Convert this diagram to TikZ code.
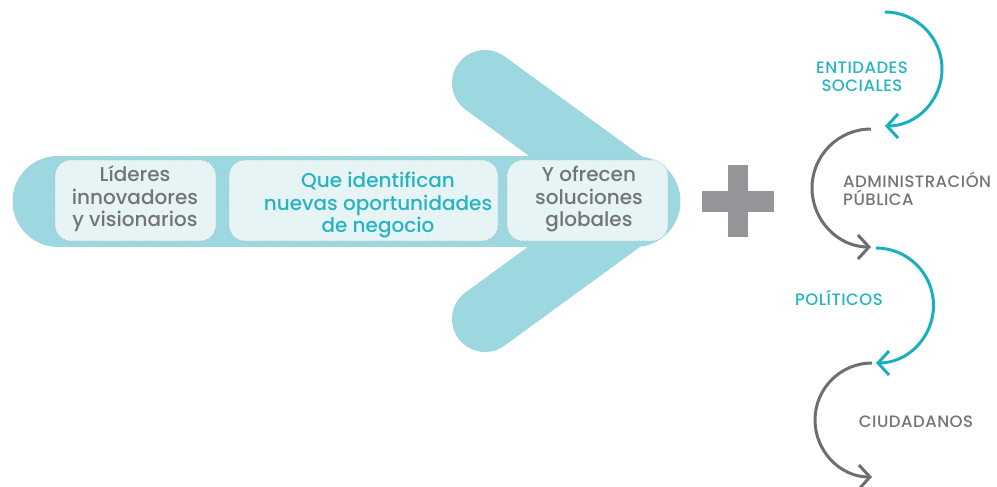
\documentclass[tikz,border=0pt]{standalone}
\usepackage{fontspec}
\setmainfont{Poppins Medium}
\usetikzlibrary{arrows.meta}
\definecolor{arrowfill}{HTML}{9DD7DF}
\definecolor{boxfill}{HTML}{E6F4F6}
\definecolor{boxline}{HTML}{A9B3B5}
\definecolor{graytxt}{HTML}{737477}
\definecolor{tealtxt}{HTML}{27B4C2}
\definecolor{tealarc}{HTML}{1AAFBE}
\definecolor{grayarc}{HTML}{6D6E71}
\definecolor{plusgray}{HTML}{939598}
\begin{document}
\begin{tikzpicture}[x=1pt,y=-1pt,
 box/.style={draw=boxline, dotted, line width=0.8pt, fill=boxfill, rounded corners=16pt, inner sep=0pt},
 boxtext/.style={align=center, font=\fontsize{20}{22.5}\selectfont, inner sep=0pt},
 lbl/.style={font=\fontsize{16.5}{18}\selectfont\addfontfeature{LetterSpace=3}, inner sep=0pt},
 tealarrow/.style={draw=tealarc, line width=3pt, -{Straight Barb[length=11pt,width=24pt]}},
 grayarrow/.style={draw=grayarc, line width=3pt, -{Straight Barb[length=11pt,width=24pt]}},
]
\useasboundingbox (0,0) rectangle (997,487);
% big arrow
\draw[arrowfill, line width=91pt, line cap=round] (58,201) -- (635,201);
\draw[arrowfill, line width=66pt, line cap=round, line join=round] (485,83) -- (647,201) -- (485,319);
% boxes
\node[box, minimum width=161pt, minimum height=81pt] (b1) at (135.5,200.5) {};
\node[box, minimum width=269pt, minimum height=81pt] (b2) at (363.5,200.5) {};
\node[box, minimum width=161pt, minimum height=81pt] (b3) at (587.5,200.5) {};
\node[boxtext, text=graytxt] (t1) at (135,199) {Líderes\\innovadores\\y visionarios};
\node[boxtext, text=tealtxt] (t2) at (378,205) {Que identifican\\nuevas oportunidades\\de negocio};
\node[boxtext, text=graytxt] (t3) at (589,199) {Y ofrecen\\soluciones\\globales};
% plus
\fill[plusgray] (702,191) rectangle (774,212);
\fill[plusgray] (728,165) rectangle (748,237);
% arcs
\coordinate (p1) at (885,12);
\coordinate (p2) at (871,129);
\coordinate (p3) at (876,248);
\coordinate (p4) at (872,363);
\draw[tealarrow] (p1) arc[start angle=-90, end angle=90, radius=57];
\draw[grayarrow] (p2) arc[start angle=-90, end angle=-270, radius=59];
\draw[tealarrow] (p3) arc[start angle=-90, end angle=90, radius=57.5];
\draw[grayarrow] (p4) arc[start angle=-90, end angle=-270, radius=57];
% labels
\node[lbl, text=tealtxt, align=center] (l1) at (862,77) {ENTIDADES\\SOCIALES};
\node[lbl, text=graytxt, align=left, anchor=west] (l2) at (843,189) {ADMINISTRACIÓN\\PÚBLICA};
\node[lbl, text=tealtxt] (l3) at (839,298) {POLÍTICOS};
\node[lbl, text=graytxt] (l4) at (916,422) {CIUDADANOS};
\end{tikzpicture}
\end{document}
